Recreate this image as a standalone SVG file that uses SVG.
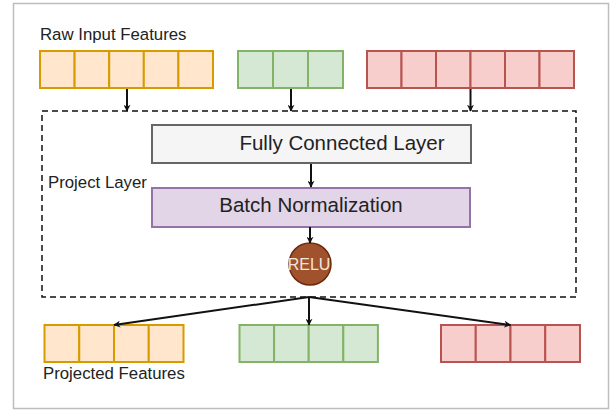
<svg xmlns="http://www.w3.org/2000/svg" width="611" height="411" viewBox="0 0 611 411">
  <defs>
    <marker id="arrow" viewBox="0 0 10 10" refX="9" refY="5" markerWidth="7" markerHeight="7" markerUnits="userSpaceOnUse" orient="auto">
      <path d="M0,0 L10,5 L0,10 L3,5 Z" fill="#111"/>
    </marker>
    <style>
      .lbl { font-family: "Liberation Sans", Arial, sans-serif; fill: #222; }
      .org { fill: #ffe6cc; stroke: #d79b00; stroke-width: 2; }
      .grn { fill: #d5e8d4; stroke: #82b366; stroke-width: 2; }
      .red { fill: #f8cecc; stroke: #b85450; stroke-width: 2; }
      .edge { stroke: #111; stroke-width: 2; fill: none; marker-end: url(#arrow); }
    </style>
  </defs>

  <rect x="0" y="0" width="611" height="411" fill="#fff"/>
  <rect x="13.5" y="3.5" width="595" height="405" fill="none" stroke="#bdbdbd" stroke-width="1.5"/>

  <!-- raw input feature vectors -->
  <g id="raw-orange">
    <rect class="org" x="40" y="51" width="34.6" height="37"/>
    <rect class="org" x="74.6" y="51" width="34.6" height="37"/>
    <rect class="org" x="109.2" y="51" width="34.6" height="37"/>
    <rect class="org" x="143.8" y="51" width="34.6" height="37"/>
    <rect class="org" x="178.4" y="51" width="34.6" height="37"/>
  </g>
  <g id="raw-green">
    <rect class="grn" x="238" y="51" width="35" height="37"/>
    <rect class="grn" x="273" y="51" width="35" height="37"/>
    <rect class="grn" x="308" y="51" width="35" height="37"/>
  </g>
  <g id="raw-red">
    <rect class="red" x="367" y="51" width="34.5" height="37"/>
    <rect class="red" x="401.5" y="51" width="34.5" height="37"/>
    <rect class="red" x="436" y="51" width="34.5" height="37"/>
    <rect class="red" x="470.5" y="51" width="34.5" height="37"/>
    <rect class="red" x="505" y="51" width="34.5" height="37"/>
    <rect class="red" x="539.5" y="51" width="34.5" height="37"/>
  </g>
  <text class="lbl" x="40" y="40" font-size="16.8">Raw Input Features</text>

  <!-- projection layer container -->
  <g id="project-layer">
    <rect x="42" y="111" width="534" height="186" fill="none" stroke="#111" stroke-width="1.5" stroke-dasharray="6 4"/>
    <text class="lbl" x="48" y="188" font-size="16.8">Project Layer</text>
  </g>

  <g id="fc">
    <rect x="152" y="125" width="319" height="38" fill="#f5f5f5" stroke="#666" stroke-width="2"/>
    <text class="lbl" x="342" y="150" font-size="20.5" text-anchor="middle">Fully Connected Layer</text>
  </g>
  <g id="bn">
    <rect x="152" y="188" width="318" height="39" fill="#e1d5e7" stroke="#9673a6" stroke-width="2"/>
    <text class="lbl" x="311" y="212" font-size="20.5" text-anchor="middle">Batch Normalization</text>
  </g>
  <g id="relu">
    <circle cx="310" cy="264" r="21" fill="#a0522d" stroke="#6d2a0e" stroke-width="1.5"/>
    <text x="309" y="270" font-family="'Liberation Sans', Arial, sans-serif" font-size="16" fill="#f3e6dc" text-anchor="middle">RELU</text>
  </g>

  <!-- projected feature vectors -->
  <g id="proj-orange">
    <rect class="org" x="44.5" y="325" width="34.75" height="37"/>
    <rect class="org" x="79.25" y="325" width="34.75" height="37"/>
    <rect class="org" x="114" y="325" width="34.75" height="37"/>
    <rect class="org" x="148.75" y="325" width="34.75" height="37"/>
  </g>
  <g id="proj-green">
    <rect class="grn" x="239.5" y="325" width="34.6" height="37"/>
    <rect class="grn" x="274.1" y="325" width="34.6" height="37"/>
    <rect class="grn" x="308.7" y="325" width="34.6" height="37"/>
    <rect class="grn" x="343.3" y="325" width="34.6" height="37"/>
  </g>
  <g id="proj-red">
    <rect class="red" x="441" y="325" width="34.75" height="37"/>
    <rect class="red" x="475.75" y="325" width="34.75" height="37"/>
    <rect class="red" x="510.5" y="325" width="34.75" height="37"/>
    <rect class="red" x="545.25" y="325" width="34.75" height="37"/>
  </g>
  <text class="lbl" x="43" y="379" font-size="16.8">Projected Features</text>

  <!-- connectors -->
  <g id="connectors">
    <line class="edge" x1="127" y1="89" x2="127" y2="111"/>
    <line class="edge" x1="291" y1="89" x2="291" y2="111"/>
    <line class="edge" x1="470.5" y1="89" x2="470.5" y2="111"/>
    <line class="edge" x1="311" y1="164" x2="311" y2="187"/>
    <line class="edge" x1="310" y1="227" x2="310" y2="243"/>
    <line class="edge" x1="309" y1="297" x2="114" y2="325"/>
    <line class="edge" x1="309" y1="297" x2="309" y2="325"/>
    <line class="edge" x1="309" y1="297" x2="510.5" y2="325"/>
  </g>
</svg>
